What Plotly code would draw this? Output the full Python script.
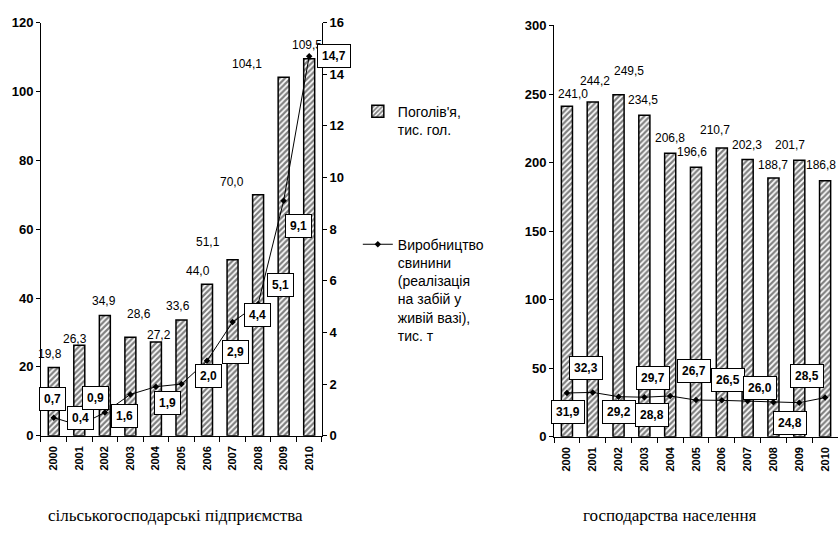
import plotly.graph_objects as go

years = ["2000", "2001", "2002", "2003", "2004", "2005", "2006", "2007", "2008", "2009", "2010"]

# Left panel: agricultural enterprises
ent_herd = [19.8, 26.3, 34.9, 28.6, 27.2, 33.6, 44.0, 51.1, 70.0, 104.1, 109.5]
ent_prod = [0.7, 0.4, 0.9, 1.6, 1.9, 2.0, 2.9, 4.4, 5.1, 9.1, 14.7]

# Right panel: households
hh_herd = [241.0, 244.2, 249.5, 234.5, 206.8, 196.6, 210.7, 202.3, 188.7, 201.7, 186.8]
hh_prod = [31.9, 32.3, 29.2, 28.8, 29.7, 26.7, 26.5, 26.0, 25.2, 24.8, 28.5]
hh_prod_labels = ["31,9", "32,3", "29,2", "28,8", "29,7", "26,7", "26,5", "26,0", "", "24,8", "28,5"]

def fmt(v):
    return f"{v:.1f}".replace(".", ",")

# label offsets (pixels) for readability, as placed in the original
ent_herd_off = [(-4, 14), (-4, 6), (-1, 15), (9, 23), (3, 7), (-3, 14), (-9, 13), (-25, 18), (-26, 13), (-37, 13), (-2, 14)]
ent_prod_off = [(-1, 19), (1, 7), (-9, 14), (-6, -22), (12, -16), (27, 8), (28, 9), (25, 7), (22, 19), (15, -25), (25, 0)]
hh_herd_off = [(6, 12), (2, 21), (10, 24), (-1, 15), (0, 15), (-4, 15), (-7, 18), (-1, 14), (0, 13), (-9, 15), (-4, 16)]
hh_prod_off = [(1, -19), (-7, 24), (0, -15), (8, -18), (-17, 18), (-2, 29), (6, 20), (12, 13), (0, 0), (-9, -20), (-18, 22)]

FONT = "Liberation Sans, Arial, sans-serif"
SERIF = "Liberation Serif, Times New Roman, serif"

hatch = dict(shape="/", fgcolor="black", bgcolor="white", size=4, solidity=0.55)

fig = go.Figure()

fig.add_trace(go.Bar(
    x=years, y=ent_herd, name="Поголів'я,<br>тис. гол.",
    marker=dict(color="white", line=dict(color="black", width=1.5), pattern=hatch),
    width=0.43, xaxis="x", yaxis="y", legend="legend",
))
fig.add_trace(go.Scatter(
    x=years, y=ent_prod, mode="lines+markers",
    name="Виробництво<br>свинини<br>(реалізація<br>на забій у<br>живій вазі),<br>тис. т",
    line=dict(color="black", width=1), marker=dict(color="black", size=5, symbol="diamond"),
    xaxis="x", yaxis="y2", legend="legend2",
))
fig.add_trace(go.Bar(
    x=years, y=hh_herd, showlegend=False,
    marker=dict(color="white", line=dict(color="black", width=1.5), pattern=hatch),
    width=0.43, xaxis="x2", yaxis="y3",
))
fig.add_trace(go.Scatter(
    x=years, y=hh_prod, mode="lines+markers", showlegend=False,
    line=dict(color="black", width=1), marker=dict(color="black", size=5, symbol="diamond"),
    xaxis="x2", yaxis="y3",
))

ann = []
for i, y in enumerate(years):
    dx, dy = ent_herd_off[i]
    ann.append(dict(x=i, y=ent_herd[i], xref="x", yref="y", text=fmt(ent_herd[i]),
                    showarrow=False, xshift=dx, yshift=dy, font=dict(size=12, color="black", family=FONT)))
    dx, dy = ent_prod_off[i]
    ann.append(dict(x=i, y=ent_prod[i], xref="x", yref="y2", text="<b>" + fmt(ent_prod[i]) + "</b>",
                    showarrow=False, xshift=dx, yshift=dy, bgcolor="white", bordercolor="black",
                    borderwidth=1, borderpad=4, font=dict(size=12, color="black", family=FONT)))
    dx, dy = hh_herd_off[i]
    ann.append(dict(x=i, y=hh_herd[i], xref="x2", yref="y3", text=fmt(hh_herd[i]),
                    showarrow=False, xshift=dx, yshift=dy, font=dict(size=12, color="black", family=FONT)))
    if hh_prod_labels[i]:
        dx, dy = hh_prod_off[i]
        ann.append(dict(x=i, y=hh_prod[i], xref="x2", yref="y3", text="<b>" + hh_prod_labels[i] + "</b>",
                        showarrow=False, xshift=dx, yshift=dy, bgcolor="white", bordercolor="black",
                        borderwidth=1, borderpad=4, font=dict(size=12, color="black", family=FONT)))

ann.append(dict(x=0.21, y=0.03, xref="paper", yref="paper", xanchor="center", yanchor="middle",
                text="сільськогосподарські підприємства",
                showarrow=False, font=dict(size=17, color="black", family=SERIF)))
ann.append(dict(x=0.80, y=0.03, xref="paper", yref="paper", xanchor="center", yanchor="middle",
                text="господарства населення",
                showarrow=False, font=dict(size=17, color="black", family=SERIF)))

axis_common = dict(showgrid=False, zeroline=False, showline=True, linecolor="black", linewidth=1,
                   ticks="outside", tickcolor="black", ticklen=4,
                   tickfont=dict(size=13, color="black", family=FONT, weight="bold"))

xaxis_common = dict(axis_common, type="category", tickangle=-90, tickson="boundaries", ticklen=5,
                    ticklabelstandoff=5, range=[-0.5, 10.5],
                    tickfont=dict(size=11, color="black", family=FONT, weight="bold"))

fig.update_layout(
    width=838, height=539,
    margin=dict(l=0, r=0, t=0, b=0),
    paper_bgcolor="white", plot_bgcolor="white",
    font=dict(family=FONT, color="black"),
    bargap=0.5,
    xaxis=dict(xaxis_common, domain=[0.0489, 0.3842], anchor="y"),
    yaxis=dict(axis_common, domain=[0.1818, 0.9703], range=[0, 120], dtick=20, anchor="x"),
    yaxis2=dict(axis_common, overlaying="y", side="right", range=[0, 16], dtick=2, anchor="x"),
    xaxis2=dict(xaxis_common, domain=[0.6611, 1.0], anchor="y3"),
    yaxis3=dict(axis_common, domain=[0.180, 0.9647], range=[0, 300], dtick=50, anchor="x2"),
    legend=dict(x=0.427, y=0.831, xanchor="left", yanchor="top", bgcolor="rgba(0,0,0,0)", valign="top",
                font=dict(size=14, color="black", family=FONT), itemwidth=30, tracegroupgap=0),
    legend2=dict(x=0.427, y=0.577, xanchor="left", yanchor="top", bgcolor="rgba(0,0,0,0)", valign="top",
                 font=dict(size=14, color="black", family=FONT), itemwidth=30),
    annotations=ann,
)

fig.write_html("out.html", config={"displayModeBar": False},
               post_script="document.body.style.margin='0';")
